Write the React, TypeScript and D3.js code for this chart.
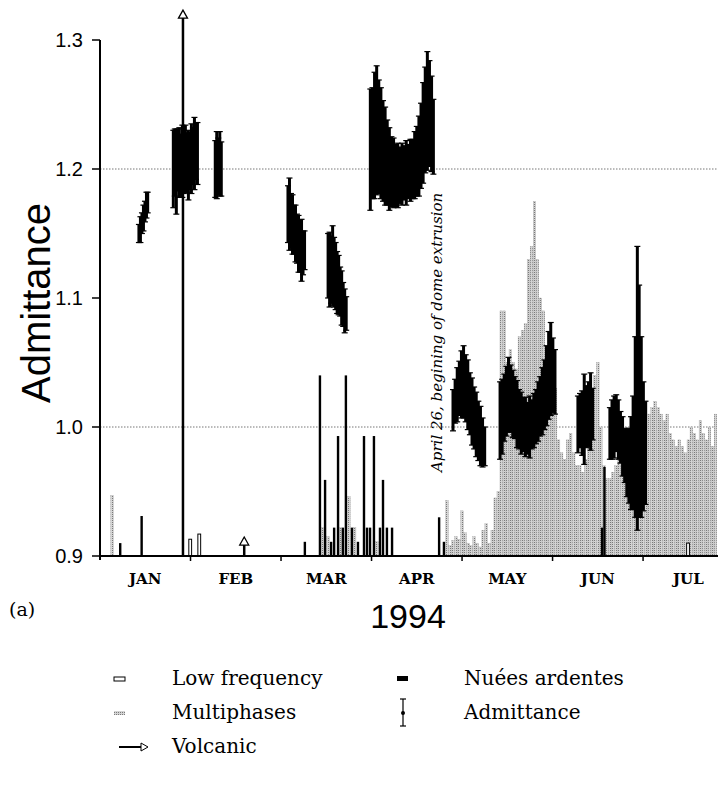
import React from "react";
import * as d3 from "d3";

const W = 718;
const H = 785;

const monthLabels = ["JAN", "FEB", "MAR", "APR", "MAY", "JUN", "JUL"];
const monthLabelDays = [15, 45, 75, 105, 135, 165, 195];
const monthTickDays = [30, 60, 90, 120, 150, 180];
const yTicks = [0.9, 1.0, 1.1, 1.2, 1.3];
const yTickLabels = ["0.9", "1.0", "1.1", "1.2", "1.3"];
const gridValues = [1.0, 1.2];

// Admittance measurements: [day, mean, half error]
const admJanA = [
  [12.9, 1.15, 0.007], [13.4, 1.153, 0.01], [13.9, 1.158, 0.008], [14.4, 1.162, 0.01],
  [14.9, 1.167, 0.008], [15.4, 1.172, 0.01], [15.8, 1.174, 0.008],
];
const admJanB = [
  [24.3, 1.2, 0.03], [24.8, 1.205, 0.026], [25.3, 1.198, 0.033], [25.8, 1.207, 0.024],
  [26.3, 1.205, 0.027], [26.8, 1.203, 0.024], [27.3, 1.206, 0.028], [27.8, 1.204, 0.023],
  [28.3, 1.208, 0.026], [28.8, 1.205, 0.023], [29.3, 1.203, 0.027], [29.8, 1.206, 0.022],
  [30.3, 1.208, 0.027], [30.8, 1.21, 0.022], [31.3, 1.212, 0.028], [31.8, 1.214, 0.022],
  [32.3, 1.212, 0.024],
];
const admFeb = [
  [38.2, 1.2, 0.022], [38.7, 1.203, 0.026], [39.2, 1.202, 0.022], [39.7, 1.204, 0.025],
  [40.2, 1.2, 0.021],
];
const admMarA = [
  [62.3, 1.165, 0.022], [62.8, 1.165, 0.028], [63.3, 1.16, 0.021], [63.8, 1.157, 0.023],
  [64.3, 1.153, 0.019], [64.8, 1.15, 0.022], [65.3, 1.146, 0.019], [65.8, 1.142, 0.022],
  [66.3, 1.14, 0.02], [66.8, 1.137, 0.024], [67.3, 1.135, 0.017], [67.8, 1.137, 0.015],
];
const admMarB = [
  [75.6, 1.125, 0.025], [76.1, 1.122, 0.029], [76.6, 1.122, 0.026], [77.1, 1.125, 0.031],
  [77.6, 1.12, 0.027], [78.1, 1.117, 0.026], [78.6, 1.112, 0.024], [79.1, 1.11, 0.023],
  [79.6, 1.105, 0.019], [80.1, 1.1, 0.021], [80.6, 1.095, 0.017], [81.1, 1.09, 0.017],
  [81.6, 1.088, 0.013],
];
const admApr = [
  [89.6, 1.215, 0.047], [90.3, 1.22, 0.043], [91.0, 1.226, 0.049], [91.7, 1.23, 0.05],
  [92.4, 1.225, 0.044], [93.1, 1.22, 0.043], [93.8, 1.214, 0.039], [94.5, 1.21, 0.038],
  [95.2, 1.205, 0.033], [95.9, 1.2, 0.032], [96.6, 1.198, 0.027], [97.3, 1.197, 0.027],
  [98.0, 1.195, 0.024], [98.7, 1.195, 0.025], [99.4, 1.195, 0.022], [100.1, 1.196, 0.024],
  [100.8, 1.197, 0.021], [101.5, 1.197, 0.025], [102.2, 1.198, 0.021], [102.9, 1.199, 0.024],
  [103.6, 1.2, 0.023], [104.3, 1.203, 0.026], [105.0, 1.206, 0.027], [105.7, 1.21, 0.031],
  [106.4, 1.218, 0.033], [107.1, 1.228, 0.039], [107.8, 1.238, 0.041], [108.5, 1.245, 0.046],
  [109.2, 1.243, 0.041], [109.9, 1.235, 0.037], [110.5, 1.225, 0.029],
];
const admMay = [
  [117.0, 1.013, 0.016], [117.7, 1.02, 0.017], [118.4, 1.025, 0.021], [119.1, 1.03, 0.021],
  [119.8, 1.033, 0.026], [120.5, 1.035, 0.028], [121.2, 1.03, 0.026], [121.9, 1.025, 0.027],
  [122.6, 1.018, 0.024], [123.3, 1.012, 0.026], [124.0, 1.007, 0.024], [124.7, 1.002, 0.025],
  [125.4, 0.997, 0.023], [126.1, 0.993, 0.023], [126.8, 0.988, 0.019], [127.5, 0.985, 0.015],
];
const admMayJun = [
  [132.6, 1.005, 0.03], [133.3, 1.008, 0.029], [134.0, 1.015, 0.026], [134.7, 1.02, 0.027],
  [135.4, 1.025, 0.029], [136.1, 1.022, 0.026], [136.8, 1.018, 0.026], [137.5, 1.015, 0.024],
  [138.2, 1.01, 0.026], [138.9, 1.006, 0.023], [139.6, 1.003, 0.024], [140.3, 1.002, 0.021],
  [141.0, 1.0, 0.023], [141.7, 0.999, 0.02], [142.4, 1.0, 0.024], [143.1, 1.002, 0.019],
  [143.8, 1.005, 0.021], [144.5, 1.008, 0.021], [145.2, 1.012, 0.023], [145.9, 1.016, 0.023],
  [146.6, 1.02, 0.026], [147.3, 1.025, 0.027], [148.0, 1.032, 0.031], [148.7, 1.04, 0.034],
  [149.4, 1.045, 0.036], [150.1, 1.04, 0.029], [150.8, 1.035, 0.025],
];
const admJunA = [
  [158.4, 1.002, 0.022], [159.1, 1.005, 0.021], [159.8, 1.003, 0.025], [160.5, 1.006, 0.035],
  [161.2, 1.008, 0.024], [161.9, 1.01, 0.025], [162.6, 1.012, 0.03], [163.3, 1.01, 0.02],
];
const admJunB = [
  [169.0, 0.995, 0.02], [169.7, 0.998, 0.023], [170.4, 1.0, 0.024], [171.1, 1.003, 0.022],
  [171.8, 0.998, 0.023], [172.5, 0.992, 0.02], [173.2, 0.985, 0.023], [173.9, 0.978, 0.021],
  [174.6, 0.972, 0.026], [175.3, 0.97, 0.029], [176.0, 0.972, 0.036], [176.7, 0.98, 0.044],
  [177.4, 1.0, 0.07], [178.1, 1.03, 0.11], [178.7, 1.02, 0.09], [179.4, 1.0, 0.07],
  [180.1, 0.985, 0.05], [180.8, 0.98, 0.04],
];
const admittanceClusters = [admJanA, admJanB, admFeb, admMarA, admMarB, admApr, admMay, admMayJun, admJunA, admJunB];

// Event bars: [day, top value]
const nueesArdentes = [
  [6.7, 0.91], [13.8, 0.931], [67.9, 0.911], [72.9, 1.04], [74.6, 0.959], [76.6, 0.911],
  [77.6, 0.922], [78.9, 0.993], [80.5, 0.922], [81.5, 1.04], [83.5, 0.922], [85.5, 0.911],
  [87.5, 0.993], [88.5, 0.922], [89.5, 0.922], [90.8, 0.993], [92.8, 0.922], [93.8, 0.959],
  [95.1, 0.922], [96.8, 0.922], [112.4, 0.93], [114.0, 0.911], [166.4, 0.922], [167.2, 0.969],
];
const multiphases = [
  [4.0, 0.947], [73.6, 0.922], [75.6, 0.915], [79.5, 0.922], [82.5, 0.946], [84.4, 0.922],
  [91.8, 0.911],
  [115, 0.943], [116, 0.908], [117, 0.912], [118, 0.915], [119, 0.913], [120, 0.935],
  [121, 0.918], [122, 0.91], [123, 0.908], [124, 0.915], [125, 0.91], [126, 0.907],
  [127, 0.92], [128, 0.925], [129, 0.91], [130, 0.92], [131, 0.945], [132, 0.95],
  [133, 1.09], [134, 1.09], [135, 1.05], [136, 1.06], [137, 1.05], [138, 1.045],
  [139, 1.07], [140, 1.075], [141, 1.08], [142, 1.13], [143, 1.14], [144, 1.175],
  [145, 1.13], [146, 1.1], [147, 1.09], [148, 1.06], [149, 1.045], [150, 1.035],
  [151, 1.03], [152, 0.99], [153, 0.98], [154, 0.975], [155, 0.99], [156, 0.995],
  [157, 0.98], [158, 0.97], [159, 0.97], [160, 0.965], [161, 0.975], [162, 0.99],
  [163, 1.0], [164, 1.04], [165, 1.05], [166, 1.0], [167, 0.97], [168, 0.96],
  [169, 0.96], [170, 0.965], [171, 0.97], [172, 0.975], [173, 0.97], [174, 0.965],
  [175, 0.96], [176, 0.97], [177, 0.965], [178, 0.96], [179, 0.97], [180, 1.015],
  [181, 1.02], [182, 1.01], [183, 1.015], [184, 1.02], [185, 1.015], [186, 1.01],
  [187, 1.005], [188, 1.01], [189, 0.995], [190, 0.99], [191, 0.985], [192, 0.99],
  [193, 0.985], [194, 0.98], [195, 0.99], [196, 1.0], [197, 0.995], [198, 0.99],
  [199, 1.005], [200, 0.995], [201, 0.99], [202, 1.0], [203, 0.985], [204, 1.01],
];
const lowFrequency = [[29.9, 0.913], [32.9, 0.917], [194.9, 0.91]];
const volcanic = [[27.5, 1.317], [47.8, 0.9085]];

const legendLeft = [
  { label: "Low frequency", kind: "low" },
  { label: "Multiphases", kind: "multi" },
  { label: "Volcanic", kind: "volc" },
];
const legendRight = [
  { label: "Nuées ardentes", kind: "nuee" },
  { label: "Admittance", kind: "adm" },
];

const x = d3.scaleLinear().domain([0, 205]).range([100, 718.5]);
const y = d3.scaleLinear().domain([0.9, 1.3]).range([556, 40]);
const base = y(0.9);

const sans = "'Liberation Sans', Arial, Helvetica, sans-serif";
const serif = "'DejaVu Serif', 'Liberation Serif', serif";

function ErrorBar({ d, m, e }: { d: number; m: number; e: number }) {
  const cx = x(d);
  const top = y(m + e);
  const bot = y(m - e);
  return (
    <g>
      <line x1={cx} x2={cx} y1={top} y2={bot} stroke="#000" strokeWidth={3} />
      <line x1={cx - 3} x2={cx + 3} y1={top} y2={top} stroke="#000" strokeWidth={1.2} />
      <line x1={cx - 3} x2={cx + 3} y1={bot} y2={bot} stroke="#000" strokeWidth={1.2} />
    </g>
  );
}

export default function App() {
  return (
    <svg width={W} height={H} style={{ position: "absolute", left: 0, top: 0, background: "#fff" }}>
      <defs>
        <pattern id="mp" width={2} height={2} patternUnits="userSpaceOnUse">
          <rect width={2} height={2} fill="#d4d4d4" />
          <rect width={1} height={1} fill="#7a7a7a" />
        </pattern>
      </defs>
      <rect width={W} height={H} fill="#fff" />

      {gridValues.map((v) => (
        <line key={v} x1={100} x2={718} y1={y(v)} y2={y(v)} stroke="#777" strokeWidth={1} strokeDasharray="1.5,1.5" />
      ))}

      {multiphases.map(([d, v], i) => (
        <rect key={"m" + i} x={x(d) - 1.3} y={y(v)} width={2.6} height={base - y(v)} fill="url(#mp)" stroke="#999" strokeWidth={0.3} />
      ))}

      {nueesArdentes.map(([d, v], i) => (
        <rect key={"n" + i} x={x(d) - 1.2} y={y(v)} width={2.4} height={base - y(v)} fill="#000" />
      ))}

      {lowFrequency.map(([d, v], i) => (
        <rect key={"l" + i} x={x(d) - 1.4} y={y(v)} width={2.8} height={base - y(v)} fill="#fff" stroke="#000" strokeWidth={1} />
      ))}

      {volcanic.map(([d, v], i) => {
        const cx = x(d);
        const top = y(v);
        return (
          <g key={"v" + i}>
            <line x1={cx} x2={cx} y1={base} y2={top} stroke="#000" strokeWidth={2.5} />
            <path d={`M${cx - 4.5},${top} L${cx},${top - 8} L${cx + 4.5},${top} Z`} fill="#fff" stroke="#000" strokeWidth={1.3} />
          </g>
        );
      })}

      {admittanceClusters.map((c, ci) => (
        <g key={"c" + ci}>
          {c.map(([d, m, e], i) => (
            <ErrorBar key={i} d={d} m={m} e={e} />
          ))}
        </g>
      ))}

      <line x1={100} x2={100} y1={y(1.3)} y2={base + 4} stroke="#000" strokeWidth={2} />
      <line x1={99} x2={718} y1={base} y2={base} stroke="#000" strokeWidth={2} />
      {yTicks.map((v, i) => (
        <g key={"yt" + i}>
          <line x1={92} x2={100} y1={y(v)} y2={y(v)} stroke="#000" strokeWidth={1.5} />
          <text x={83} y={y(v) + 7} textAnchor="end" fontFamily={sans} fontSize={20} fill="#000">
            {yTickLabels[i]}
          </text>
        </g>
      ))}
      {monthTickDays.map((d) => (
        <line key={"xt" + d} x1={x(d)} x2={x(d)} y1={base} y2={base + 5} stroke="#000" strokeWidth={1.5} />
      ))}
      {monthLabels.map((m, i) => (
        <text key={m} x={x(monthLabelDays[i])} y={584} textAnchor="middle" fontFamily={serif} fontWeight="bold" fontSize={15} fill="#000">
          {m}
        </text>
      ))}

      <text transform="translate(50,303) rotate(-90)" textAnchor="middle" fontFamily={sans} fontSize={40} fill="#000">
        Admittance
      </text>
      <text x={408} y={628} textAnchor="middle" fontFamily={sans} fontSize={34} fill="#000">
        1994
      </text>
      <text x={9} y={616} fontFamily={serif} fontSize={19} fill="#000">
        (a)
      </text>

      <text transform="translate(442,472) rotate(-90)" fontFamily={serif} fontStyle="italic" fontSize={15} fill="#000">
        April 26, begining of dome extrusion
      </text>

      {legendLeft.map((it, i) => {
        const ly = 685 + i * 34;
        return (
          <g key={it.label}>
            {it.kind === "low" && <rect x={114} y={ly - 8} width={11} height={4} fill="#fff" stroke="#000" strokeWidth={1} />}
            {it.kind === "multi" && <rect x={114} y={ly - 8} width={11} height={4} fill="url(#mp)" />}
            {it.kind === "volc" && (
              <g>
                <line x1={119} x2={141} y1={ly - 6} y2={ly - 6} stroke="#000" strokeWidth={2} />
                <path d={`M141,${ly - 10} L148,${ly - 6} L141,${ly - 2} Z`} fill="#fff" stroke="#000" strokeWidth={1} />
              </g>
            )}
            <text x={172} y={ly} fontFamily={serif} fontSize={20} fill="#000">
              {it.label}
            </text>
          </g>
        );
      })}
      {legendRight.map((it, i) => {
        const ly = 685 + i * 34;
        return (
          <g key={it.label}>
            {it.kind === "nuee" && <rect x={397} y={ly - 9} width={11} height={5} fill="#000" />}
            {it.kind === "adm" && (
              <g>
                <line x1={403} x2={403} y1={ly - 20} y2={ly + 7} stroke="#000" strokeWidth={1.2} />
                <line x1={400} x2={406} y1={ly - 20} y2={ly - 20} stroke="#000" strokeWidth={1.2} />
                <line x1={400} x2={406} y1={ly + 7} y2={ly + 7} stroke="#000" strokeWidth={1.2} />
                <circle cx={403} cy={ly - 6} r={2} fill="#000" />
              </g>
            )}
            <text x={464} y={ly} fontFamily={serif} fontSize={20} fill="#000">
              {it.label}
            </text>
          </g>
        );
      })}
    </svg>
  );
}
